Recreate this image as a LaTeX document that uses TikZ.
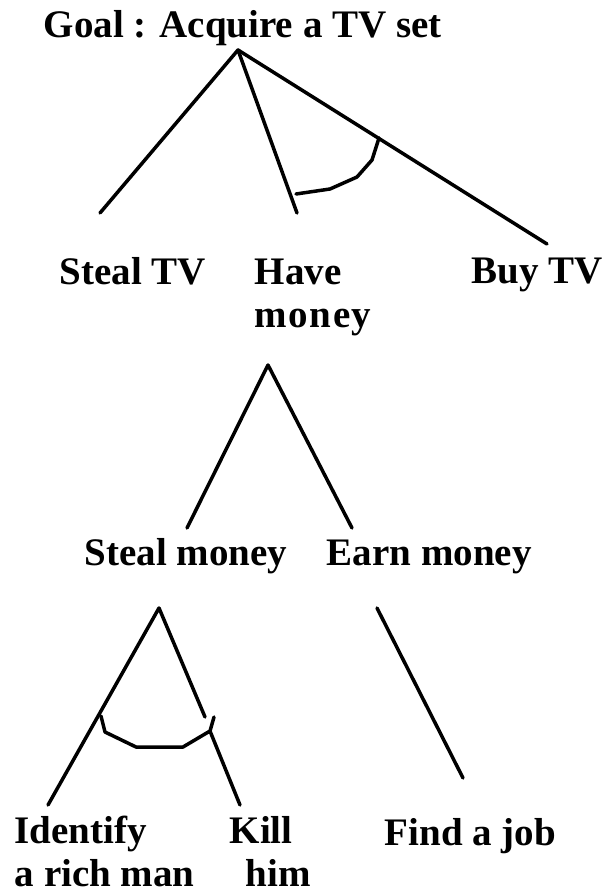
\documentclass[tikz,border=0pt]{standalone}
\usepackage{fontspec}
\setmainfont{Liberation Serif}
\usetikzlibrary{positioning}

\begin{document}
\begin{tikzpicture}[x=1pt, y=-1pt, line width=3.5pt, line cap=round, line join=round,
  lbl/.style={anchor=base west, inner sep=0pt, align=left,
    font=\fontsize{39}{43}\selectfont\bfseries}]
  \useasboundingbox (0,0) rectangle (608,893);
  % labels (base = baseline of the last line)
  \node[lbl] (goal) at (42,38) {Goal : Acquire a TV set};
  \node[lbl] (stealtv) at (58,284) {Steal TV};
  \node[lbl] (have) at (253,327) {Have\\{\addfontfeature{LetterSpace=4}money}};
  \node[lbl] (buy) at (470,283) {Buy TV};
  \node[lbl] (stealm) at (83,565) {Steal money};
  \node[lbl] (earn) at (325,565) {Earn money};
  \node[lbl] (ident) at (13,886) {Identify\\a rich man};
  \node[lbl] (kill) at (228,886) {Kill\\\hspace*{16pt}him};
  \node[lbl] (job) at (383,845) {Find a job};
  % goal tree
  \coordinate (g) at (238,50);
  \coordinate (g1) at (100,213);
  \coordinate (g2) at (297,213);
  \coordinate (g3) at (547,244);
  \draw (g1) -- (g) -- (g2);
  \draw (g) -- (g3);
  \draw (296,194) -- (330,189) -- (357,177) -- (372,160) -- (379,138);
  % have money
  \coordinate (h) at (268,365);
  \coordinate (h1) at (187,528);
  \coordinate (h2) at (352,528);
  \draw (h1) -- (h) -- (h2);
  % steal money
  \coordinate (s) at (159,608);
  \coordinate (s1) at (48,805);
  \coordinate (s2) at (205,717);
  \coordinate (s3) at (210,731);
  \coordinate (s4) at (240,805);
  \draw (s1) -- (s) -- (s2);
  \draw (s3) -- (s4);
  \draw (101,716) -- (105,732) -- (136,747) -- (183,747) -- (s3) -- (214,717);
  % earn money
  \coordinate (e) at (377,608);
  \coordinate (e1) at (463,778);
  \draw (e) -- (e1);
\end{tikzpicture}
\end{document}
